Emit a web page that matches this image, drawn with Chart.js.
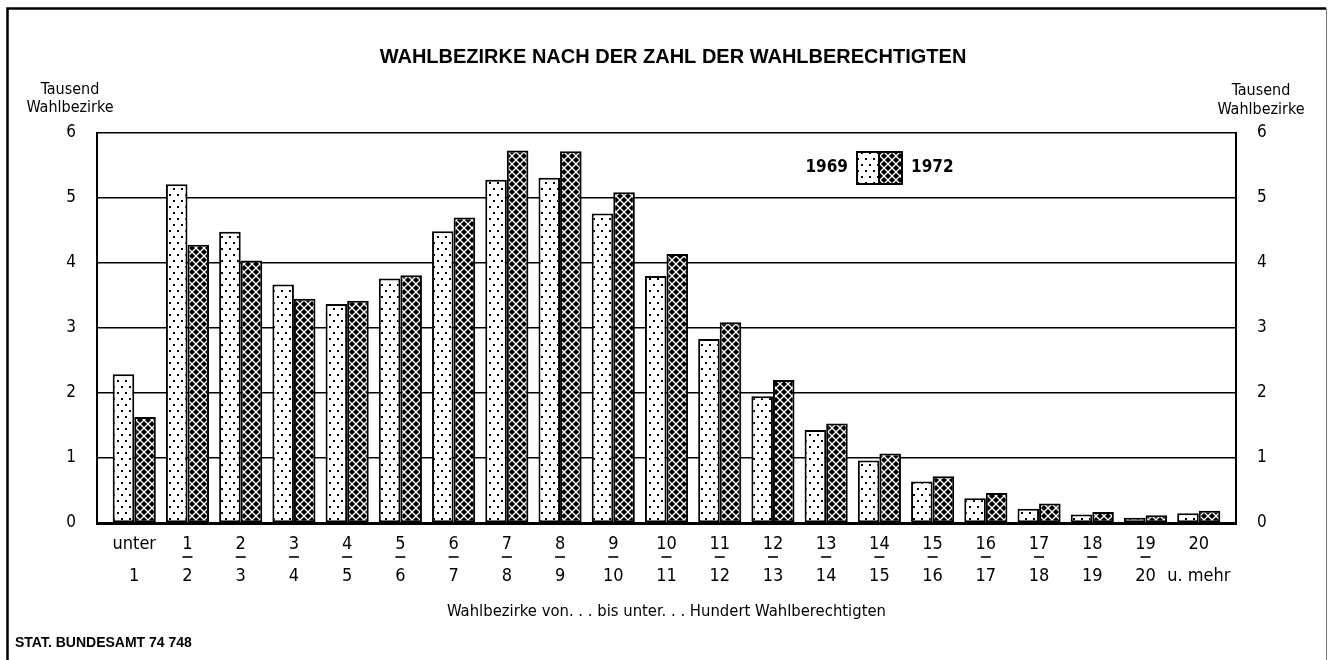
<!DOCTYPE html>
<html>
<head>
<meta charset="utf-8">
<script src="https://cdn.jsdelivr.net/npm/chart.js@4.4.1/dist/chart.umd.min.js"></script>
<style>
  html, body { margin: 0; padding: 0; background: #fff; }
  #wrap { width: 1329px; height: 660px; position: relative; }
</style>
</head>
<body>
<div id="wrap"><canvas id="c" width="1329" height="660"></canvas></div>
<script>
// ---- data ----
const labelTop = ['unter','1','2','3','4','5','6','7','8','9','10','11','12','13','14','15','16','17','18','19','20'];
const labelBottom = ['1','2','3','4','5','6','7','8','9','10','11','12','13','14','15','16','17','18','19','20','u. mehr'];
const values1969 = [2.29, 5.21, 4.48, 3.67, 3.37, 3.76, 4.49, 5.28, 5.31, 4.76, 3.80, 2.83, 1.95, 1.43, 0.96, 0.64, 0.38, 0.22, 0.13, 0.08, 0.15];
const values1972 = [1.63, 4.28, 4.04, 3.45, 3.42, 3.81, 4.70, 5.73, 5.72, 5.09, 4.14, 3.09, 2.20, 1.53, 1.07, 0.72, 0.46, 0.30, 0.17, 0.12, 0.19];
const seriesNames = ['1969', '1972'];
const yTicks = [0, 1, 2, 3, 4, 5, 6];
const titleText = 'WAHLBEZIRKE NACH DER ZAHL DER WAHLBERECHTIGTEN';
const yTitle = ['Tausend', 'Wahlbezirke'];
const xTitle = 'Wahlbezirke von. . . bis unter. . . Hundert Wahlberechtigten';
const sourceText = 'STAT. BUNDESAMT 74 748';

const NARROW = "'DejaVu Sans Condensed', 'Liberation Sans Narrow', sans-serif";

// ---- patterns ----
function dotPattern() {
  const c = document.createElement('canvas');
  c.width = 8; c.height = 12;
  const g = c.getContext('2d');
  g.fillStyle = '#fff'; g.fillRect(0, 0, 8, 12);
  g.fillStyle = '#000';
  g.fillRect(1, 2, 2, 2);
  g.fillRect(5, 8, 2, 2);
  return g.createPattern(c, 'repeat');
}
function diamondPattern() {
  const c = document.createElement('canvas');
  c.width = 8; c.height = 8;
  const g = c.getContext('2d');
  g.fillStyle = '#fff'; g.fillRect(0, 0, 8, 8);
  g.fillStyle = '#000';
  const r = 3.1;
  [[4,4],[0,0],[8,0],[0,8],[8,8]].forEach(([x,y]) => {
    g.beginPath();
    g.moveTo(x, y - r); g.lineTo(x + r, y); g.lineTo(x, y + r); g.lineTo(x - r, y); g.closePath();
    g.fill();
  });
  return g.createPattern(c, 'repeat');
}
const pat1969 = dotPattern();
const pat1972 = diamondPattern();

// ---- extra text / decorations plugin ----
const extras = {
  id: 'extras',
  afterDraw(chart) {
    const ctx = chart.ctx;
    const xs = chart.scales.x;
    ctx.save();
    // figure frame
    ctx.strokeStyle = '#000';
    ctx.lineWidth = 2.5;
    ctx.beginPath();
    ctx.moveTo(7.5, 660); ctx.lineTo(7.5, 8.5); ctx.lineTo(1326, 8.5);
    ctx.stroke();
    ctx.lineWidth = 1;
    ctx.strokeStyle = '#777';
    ctx.beginPath(); ctx.moveTo(1326.5, 8.5); ctx.lineTo(1326.5, 660); ctx.stroke();

    // fraction bars between numbers
    ctx.strokeStyle = '#000';
    ctx.lineWidth = 1.6;
    for (let i = 1; i < labelTop.length - 1; i++) {
      const px = xs.getPixelForValue(i);
      ctx.beginPath();
      ctx.moveTo(px - 5, xs.top + 34);
      ctx.lineTo(px + 5, xs.top + 34);
      ctx.stroke();
    }

    // y-axis unit titles (both sides)
    ctx.fillStyle = '#000';
    ctx.font = "16px " + NARROW;
    ctx.textAlign = 'center';
    ctx.textBaseline = 'middle';
    const lx = 70, rx = 1261;
    ctx.fillText(yTitle[0], lx, 90);
    ctx.fillText(yTitle[1], lx, 108);
    ctx.fillText(yTitle[0], rx, 91);
    ctx.fillText(yTitle[1], rx, 110);

    // legend
    const bx = 857, by = 152, bw = 22, bh = 32;
    ctx.fillStyle = pat1969;
    ctx.fillRect(bx, by, bw, bh);
    ctx.fillStyle = pat1972;
    ctx.fillRect(bx + bw, by, bw + 1, bh);
    ctx.strokeStyle = '#000';
    ctx.lineWidth = 2;
    ctx.strokeRect(bx, by, 2 * bw + 1, bh);
    ctx.beginPath(); ctx.moveTo(bx + bw, by); ctx.lineTo(bx + bw, by + bh); ctx.stroke();
    ctx.fillStyle = '#000';
    ctx.font = "bold 17px " + NARROW;
    ctx.textAlign = 'right';
    ctx.fillText(seriesNames[0], bx - 9, by + bh / 2);
    ctx.textAlign = 'left';
    ctx.fillText(seriesNames[1], bx + 2 * bw + 10, by + bh / 2);

    // source line
    ctx.font = "bold 14px 'Liberation Sans', sans-serif";
    ctx.textAlign = 'left';
    ctx.fillText(sourceText, 15, 643);
    ctx.restore();
  }
};

const ctx = document.getElementById('c').getContext('2d');
new Chart(ctx, {
  type: 'bar',
  data: {
    datasets: [
      {
        label: seriesNames[0],
        data: values1969.map((v, i) => ({ x: i, y: v })),
        backgroundColor: pat1969,
        borderColor: '#000',
        borderWidth: 2,
        borderSkipped: false,
        categoryPercentage: 0.81,
        barPercentage: 1.0
      },
      {
        label: seriesNames[1],
        data: values1972.map((v, i) => ({ x: i, y: v })),
        backgroundColor: pat1972,
        borderColor: '#000',
        borderWidth: 2,
        borderSkipped: false,
        categoryPercentage: 0.81,
        barPercentage: 1.0
      }
    ]
  },
  options: {
    responsive: false,
    animation: false,
    events: [],
    layout: { padding: { left: 17, right: 0, top: 0, bottom: 0 } },
    plugins: {
      legend: { display: false },
      tooltip: { enabled: false },
      title: {
        display: true,
        text: titleText,
        color: '#000',
        font: { family: "'Liberation Sans', sans-serif", size: 20, weight: 'bold', lineHeight: 1.2 },
        padding: { top: 45, bottom: 64 }
      }
    },
    scales: {
      x: {
        type: 'linear',
        offset: false,
        bounds: 'data',
        min: -0.7,
        max: 20.7,
        afterBuildTicks(scale) { scale.ticks = labelTop.map((_, i) => ({ value: i })); },
        afterFit(scale) { scale.height = 137; },
        grid: { display: false, drawTicks: false },
        border: { display: true, color: '#000', width: 3 },
        ticks: {
          autoSkip: false,
          maxRotation: 0,
          padding: 6,
          color: '#000',
          font: { family: NARROW, size: 18, lineHeight: 1.75 },
          callback: (v, i) => [labelTop[i], labelBottom[i]]
        },
        title: {
          display: true,
          text: xTitle,
          color: '#000',
          font: { family: NARROW, size: 16.5, lineHeight: 1.2 },
          padding: { top: 0, bottom: 38 }
        }
      },
      y: {
        position: 'left',
        min: 0, max: 6,
        afterBuildTicks(scale) { scale.ticks = yTicks.map(v => ({ value: v })); },
        afterFit(scale) { scale.width = 80; },
        grid: { color: '#000', lineWidth: 1.4, drawTicks: false },
        border: { display: true, color: '#000', width: 2 },
        ticks: { padding: 21, color: '#000', font: { family: NARROW, size: 17 } }
      },
      y2: {
        position: 'right',
        min: 0, max: 6,
        afterBuildTicks(scale) { scale.ticks = yTicks.map(v => ({ value: v })); },
        afterFit(scale) { scale.width = 93; },
        grid: { display: false, drawTicks: false },
        border: { display: true, color: '#000', width: 2 },
        ticks: { padding: 21, color: '#000', font: { family: NARROW, size: 17 } }
      }
    }
  },
  plugins: [extras]
});
</script>
</body>
</html>
